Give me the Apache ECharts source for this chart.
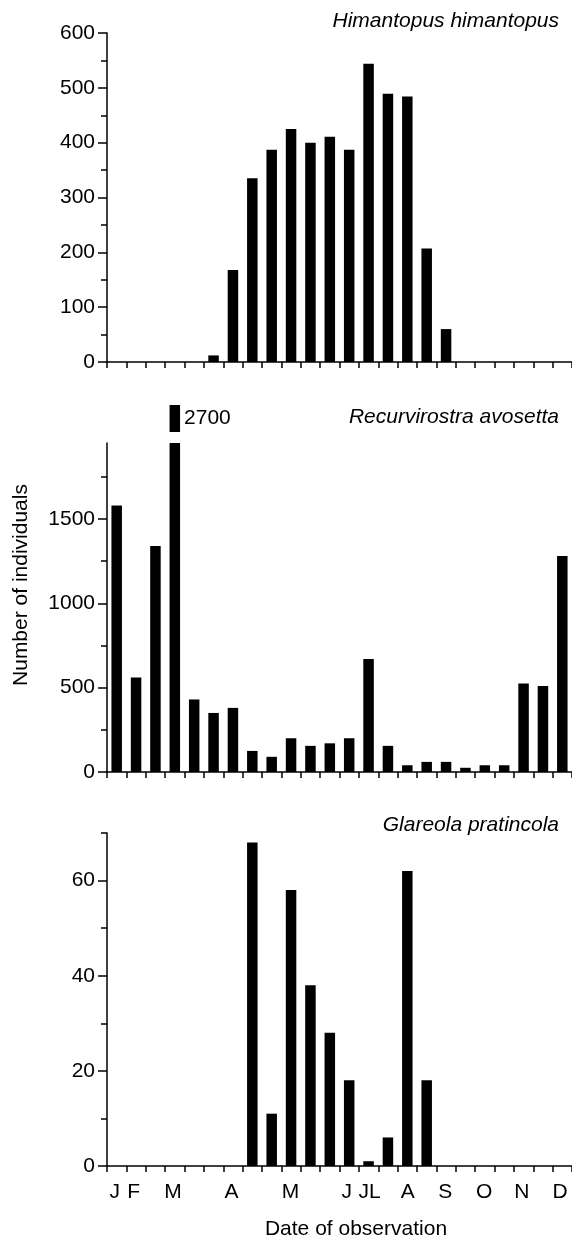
<!DOCTYPE html>
<html>
<head>
<meta charset="utf-8">
<script src="https://cdn.jsdelivr.net/npm/echarts@6/dist/echarts.min.js"></script>
<style>
html,body{margin:0;padding:0;background:#fff;}
#chart{width:572px;height:1249px;}
</style>
</head>
<body>
<div id="chart"></div>
<script>
// ---- data ----
const periods = ['P1','P2','P3','P4','P5','P6','P7','P8','P9','P10','P11','P12',
                 'P13','P14','P15','P16','P17','P18','P19','P20','P21','P22','P23','P24'];
const himantopus = [0,0,0,0,0,12,168,335,387,425,400,411,387,544,489,484,207,60,0,0,0,0,0,0];
const avosetta   = [1580,560,1340,2700,430,350,380,125,90,200,155,170,200,670,155,40,60,60,25,40,40,525,510,1280];
const glareola   = [0,0,0,0,0,0,0,68,11,58,38,28,18,1,6,62,18,0,0,0,0,0,0,0];
const speciesNames = ['Himantopus himantopus','Recurvirostra avosetta','Glareola pratincola'];
const yMax = [600, 1950, 70];
const yMajorTicks = [[0,100,200,300,400,500,600],[0,500,1000,1500],[0,20,40,60]];
const yMinorTicks = [[50,150,250,350,450,550],[250,750,1250,1750],[10,30,50,70]];
const monthLabels = ['J','F','M','A','M','J','JL','A','S','O','N','D'];
const monthPositions = [0.4,1.37,3.4,6.43,9.47,12.38,13.55,15.52,17.46,19.47,21.41,23.38];
const yAxisTitle = 'Number of individuals';
const xAxisTitle = 'Date of observation';

// ---- layout ----
const FONT = '"Liberation Sans", Arial, Helvetica, sans-serif';
const FS = 21;
const LEFT = 107, WIDTH = 466;
const gridTops = [33, 443, 833];
const gridHeights = [329, 329, 333];
const titleTops = [11, 406.5, 815];
const seriesData = [himantopus, avosetta, glareola];
const black = '#000';
const axisLineStyle = {color: black, width: 1.5};

const grids = gridTops.map((t, i) => ({left: LEFT, width: WIDTH, top: t, height: gridHeights[i]}));
grids.push({left: LEFT, width: WIDTH, top: 405, height: 27}); // stub for broken bar

const xAxes = [0,1,2].map(i => ({
  type: 'category', gridIndex: i, data: periods, boundaryGap: true,
  axisLine: {show: true, lineStyle: axisLineStyle},
  axisTick: {show: true, interval: 0, length: 6, lineStyle: axisLineStyle},
  axisLabel: {show: false}, splitLine: {show: false}
}));
xAxes.push({
  type: 'value', gridIndex: 2, min: 0, max: 24, position: 'bottom',
  axisLine: {show: false}, axisTick: {show: false}, splitLine: {show: false},
  axisLabel: {
    customValues: monthPositions,
    formatter: v => { const k = monthPositions.indexOf(v); return k >= 0 ? monthLabels[k] : ''; },
    fontSize: FS, fontFamily: FONT, color: black, margin: 16
  }
});
xAxes.push({type: 'category', gridIndex: 3, data: periods, show: false});

const yAxes = [];
[0,1,2].forEach(i => {
  yAxes.push({
    type: 'value', gridIndex: i, min: 0, max: yMax[i], position: 'left',
    axisLine: {show: true, onZero: false, lineStyle: axisLineStyle},
    axisTick: {show: true, customValues: yMajorTicks[i], length: 9, lineStyle: axisLineStyle},
    axisLabel: {customValues: yMajorTicks[i], formatter: v => String(v),
                fontSize: FS, fontFamily: FONT, color: black, margin: 12},
    splitLine: {show: false}
  });
  yAxes.push({
    type: 'value', gridIndex: i, min: 0, max: yMax[i], position: 'left',
    axisLine: {show: false},
    axisTick: {show: true, customValues: yMinorTicks[i], length: 6, lineStyle: axisLineStyle},
    axisLabel: {show: false}, splitLine: {show: false}
  });
});
yAxes.push({type: 'value', gridIndex: 3, min: yMax[1], max: Math.max(...avosetta), show: false});

const series = [0,1,2].map(i => ({
  type: 'bar', xAxisIndex: i, yAxisIndex: i * 2, data: seriesData[i],
  barWidth: 10.5, clip: true, itemStyle: {color: black}
}));
series.push({
  type: 'bar', xAxisIndex: 4, yAxisIndex: 6, barWidth: 10.5, clip: true,
  data: avosetta.map(v => v > yMax[1] ? v : '-'),
  itemStyle: {color: black},
  label: {show: true, position: 'right', distance: 4, formatter: p => String(p.value),
          fontSize: FS, fontFamily: FONT, color: black}
});

const titles = speciesNames.map((n, i) => ({
  text: n, right: 13, top: titleTops[i], padding: 0,
  textStyle: {fontStyle: 'italic', fontWeight: 'normal', fontSize: FS, fontFamily: FONT, color: black}
}));

const chart = echarts.init(document.getElementById('chart'), null, {renderer: 'canvas'});
chart.setOption({
  animation: false,
  backgroundColor: '#fff',
  title: titles,
  grid: grids,
  xAxis: xAxes,
  yAxis: yAxes,
  series: series,
  graphic: [
    {type: 'text', x: 21, y: 585, rotation: Math.PI / 2,
     style: {text: yAxisTitle, font: FS + 'px ' + FONT, fill: black, textAlign: 'center', textVerticalAlign: 'middle'}},
    {type: 'text', x: 356, y: 1229,
     style: {text: xAxisTitle, font: FS + 'px ' + FONT, fill: black, textAlign: 'center', textVerticalAlign: 'middle'}}
  ]
});
</script>
</body>
</html>
